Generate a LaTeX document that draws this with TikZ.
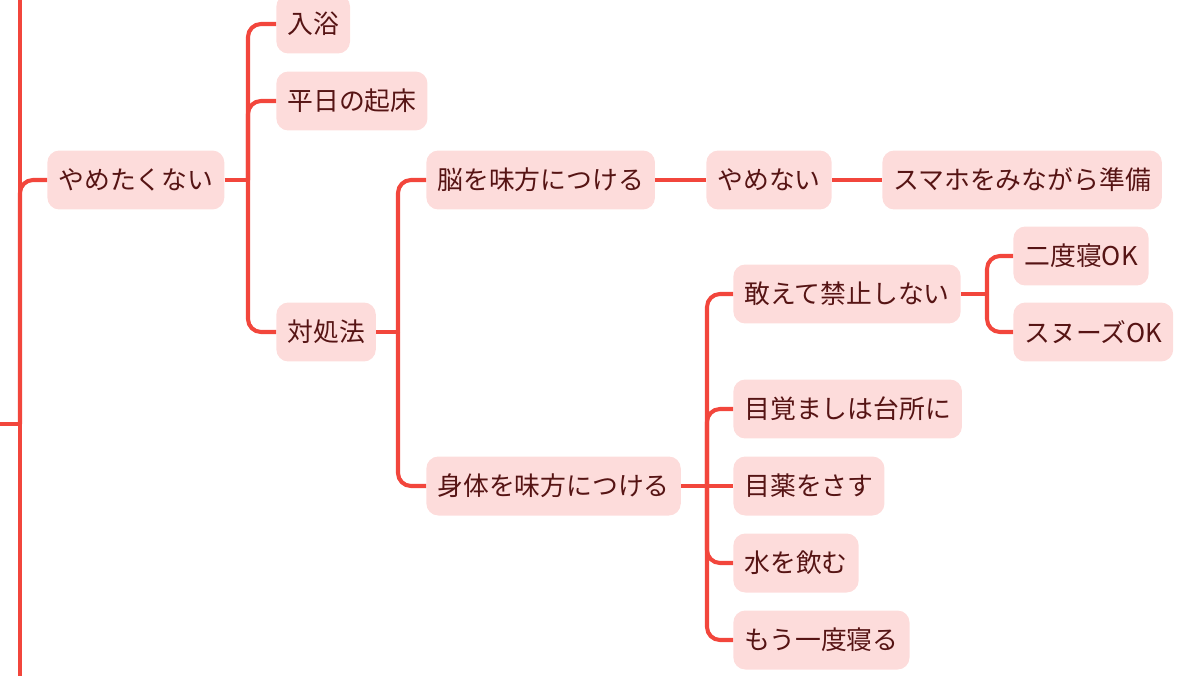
\documentclass[tikz,border=0pt]{standalone}
\usepackage{fontspec}
\setmainfont{Noto Sans CJK JP}
\definecolor{linered}{HTML}{F2463C}
\definecolor{boxfill}{HTML}{FDDCDB}
\definecolor{txt}{HTML}{561414}
\begin{document}
\begin{tikzpicture}[x=0.02cm,y=-0.02cm,
  topic/.style={fill=boxfill, text=txt, rounded corners=0.24cm, anchor=west,
    minimum height=1.18cm, inner xsep=0.22cm, inner ysep=0pt,
    font=\fontsize{14.7pt}{16pt}\selectfont},
  conn/.style={draw=linered, line width=2.3pt},
  branch/.style={conn, rounded corners=0.26cm}]
\useasboundingbox (0,0) rectangle (1200,676);
% nodes
\node[topic] (yame) at (47,180) {やめたくない};
\node[topic] (nyu) at (276,24) {入浴};
\node[topic] (hei) at (276,101) {平日の起床};
\node[topic] (tai) at (276,332) {対処法};
\node[topic] (nou) at (426,180) {脳を味方につける};
\node[topic] (shin) at (426,486) {身体を味方につける};
\node[topic] (yamenai) at (706,180) {やめない};
\node[topic] (sumaho) at (882,180) {スマホをみながら準備};
\node[topic] (aete) at (733,294) {敢えて禁止しない};
\node[topic] (nido) at (1013,256) {二度寝OK};
\node[topic] (snooze) at (1013,332) {スヌーズOK};
\node[topic] (meza) at (733,409) {目覚ましは台所に};
\node[topic] (megu) at (733,486) {目薬をさす};
\node[topic] (mizu) at (733,563) {水を飲む};
\node[topic] (mou) at (733,640) {もう一度寝る};
% junction coordinates
\coordinate (rin) at (-2,424);
\coordinate (rj) at (20,424);
\coordinate (rtop) at (20,-5);
\coordinate (rbot) at (20,681);
\coordinate (j1) at (248,180);
\coordinate (j2) at (398,332);
\coordinate (j3) at (707,486);
\coordinate (j4) at (987,294);
% main trunk
\draw[conn] (rin) -- (rj);
\draw[conn] (rtop) -- (rbot);
\draw[branch] (rj) |- (yame.west);
% やめたくない
\draw[conn] (yame.east) -- (j1);
\draw[branch] (j1) |- (nyu.west);
\draw[branch] (j1) |- (hei.west);
\draw[branch] (j1) |- (tai.west);
% 対処法
\draw[conn] (tai.east) -- (j2);
\draw[branch] (j2) |- (nou.west);
\draw[branch] (j2) |- (shin.west);
% 脳
\draw[conn] (nou.east) -- (yamenai.west);
\draw[conn] (yamenai.east) -- (sumaho.west);
% 身体
\draw[conn] (shin.east) -- (j3);
\draw[branch] (j3) |- (aete.west);
\draw[branch] (j3) |- (meza.west);
\draw[conn] (j3) -- (megu.west);
\draw[branch] (j3) |- (mizu.west);
\draw[branch] (j3) |- (mou.west);
% 敢えて
\draw[conn] (aete.east) -- (j4);
\draw[branch] (j4) |- (nido.west);
\draw[branch] (j4) |- (snooze.west);
\end{tikzpicture}
\end{document}
